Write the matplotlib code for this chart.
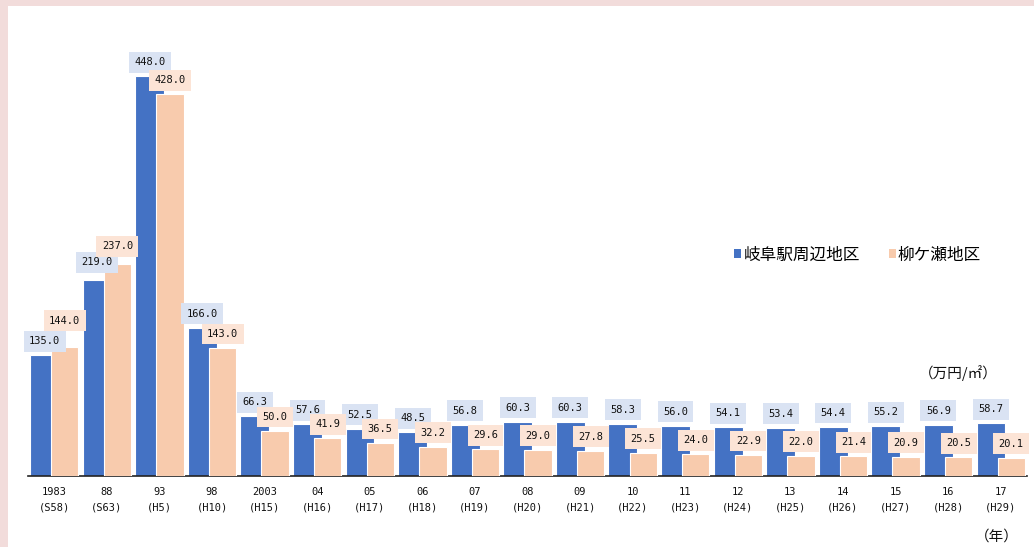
import matplotlib
matplotlib.use("Agg")
import matplotlib.pyplot as plt
from matplotlib.patches import Rectangle, Patch

years = ["1983", "88", "93", "98", "2003", "04", "05", "06", "07", "08",
         "09", "10", "11", "12", "13", "14", "15", "16", "17"]
eras = ["(S58)", "(S63)", "(H5)", "(H10)", "(H15)", "(H16)", "(H17)", "(H18)",
        "(H19)", "(H20)", "(H21)", "(H22)", "(H23)", "(H24)", "(H25)", "(H26)",
        "(H27)", "(H28)", "(H29)"]
gifu_station = [135.0, 219.0, 448.0, 166.0, 66.3, 57.6, 52.5, 48.5, 56.8, 60.3,
                60.3, 58.3, 56.0, 54.1, 53.4, 54.4, 55.2, 56.9, 58.7]
yanagase = [144.0, 237.0, 428.0, 143.0, 50.0, 41.9, 36.5, 32.2, 29.6, 29.0,
            27.8, 25.5, 24.0, 22.9, 22.0, 21.4, 20.9, 20.5, 20.1]
series_names = ["岐阜駅周辺地区", "柳ケ瀬地区"]

BLUE = "#4472c4"
PEACH = "#f8cbad"
BLUE_LBL = "#dae3f3"
PEACH_LBL = "#fce4d6"
BORDER = "#f2dcdb"

W, H = 1034, 547
fig = plt.figure(figsize=(W / 100, H / 100), dpi=100)
fig.patch.set_facecolor("white")

# pink frame (left and top)
fig.patches.append(Rectangle((0, 0), 8 / W, 1, transform=fig.transFigure,
                             facecolor=BORDER, edgecolor="none", zorder=0))
fig.patches.append(Rectangle((0, 1 - 6 / H), 1, 6 / H, transform=fig.transFigure,
                             facecolor=BORDER, edgecolor="none", zorder=0))

left_px, right_px, bottom_px, top_px = 28, 1027, 475.5, 20
ax = fig.add_axes([left_px / W, (H - bottom_px) / H,
                   (right_px - left_px) / W, (bottom_px - top_px) / H])
scale = 0.891
ax.set_ylim(0, (bottom_px - top_px) / scale)
ax.set_xlim(-0.5, len(years) - 0.5)

n = len(years)
x = list(range(n))
b_left, b_right = 0.04, 0.59
p_left, p_right = 0.44, 0.96
b_cent = [i - 0.5 + (b_left + b_right) / 2 for i in x]
p_cent = [i - 0.5 + (p_left + p_right) / 2 for i in x]

ax.bar(b_cent, gifu_station, width=b_right - b_left, color=BLUE,
       edgecolor="white", linewidth=0.8, zorder=2)
ax.bar(p_cent, yanagase, width=p_right - p_left, color=PEACH,
       edgecolor="white", linewidth=0.8, zorder=3)

# extra lift (points) of individual labels, as placed in the original chart
lift_blue = {1: 3}
lift_peach = {0: 9, 1: 3}

mono = "DejaVu Sans Mono"
for xs, vals, bg, lift in ((b_cent, gifu_station, BLUE_LBL, lift_blue),
                           (p_cent, yanagase, PEACH_LBL, lift_peach)):
    for i, (xi, v) in enumerate(zip(xs, vals)):
        ax.annotate(f"{v:.1f}", (xi, v), xytext=(0, 6.5 + lift.get(i, 0)),
                    textcoords="offset points",
                    ha="center", va="bottom", fontsize=7.5, family=mono,
                    color="#111111", zorder=5,
                    bbox=dict(boxstyle="square,pad=0.52", facecolor=bg,
                              edgecolor="none"))

ax.set_xticks(x)
ax.set_xticklabels([f"{y}\n{e}" for y, e in zip(years, eras)],
                   fontsize=7.5, family=mono, linespacing=1.75, color="#111111")
ax.tick_params(axis="x", length=0, pad=8)
ax.set_yticks([])
for s in ("left", "right", "top"):
    ax.spines[s].set_visible(False)
ax.spines["bottom"].set_color("#222222")
ax.spines["bottom"].set_linewidth(1.2)

cjk = ["Noto Sans CJK JP", "DejaVu Sans"]
handles = [Patch(facecolor=BLUE, edgecolor="none"),
           Patch(facecolor=PEACH, edgecolor="none")]
fig.legend(handles, series_names, loc="center left",
           bbox_to_anchor=(726 / W, 1 - 255 / H), ncol=2, frameon=False,
           borderpad=0, handlelength=0.42, handleheight=0.42,
           handletextpad=0.12, columnspacing=1.75,
           prop={"family": cjk, "size": 12})

fig.text(958 / W, 1 - 373 / H, "（万円/㎡）", ha="center", va="center",
         fontsize=10.5, family=cjk, color="#111111")
fig.text(997 / W, 1 - 537 / H, "（年）", ha="center", va="center",
         fontsize=10.5, family=cjk, color="#111111")

fig.savefig("out.png", dpi=100)
